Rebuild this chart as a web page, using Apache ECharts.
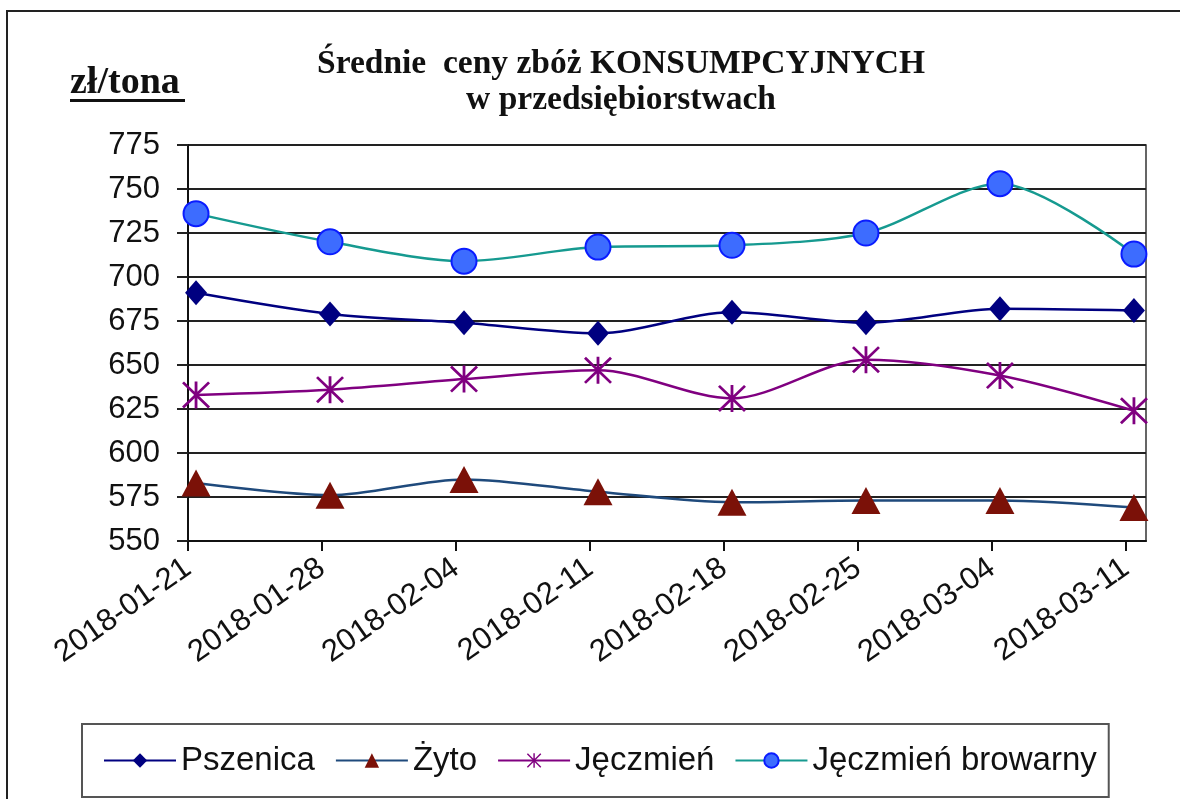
<!DOCTYPE html>
<html>
<head>
<meta charset="utf-8">
<script src="https://cdn.jsdelivr.net/npm/echarts@6/dist/echarts.min.js"></script>
<style>
html,body{margin:0;padding:0;background:#fff;}
#chart{width:1180px;height:799px;}
</style>
</head>
<body>
<div id="chart"></div>
<script>
const dates = ['2018-01-21','2018-01-28','2018-02-04','2018-02-11','2018-02-18','2018-02-25','2018-03-04','2018-03-11'];
const pszenica = [691, 679, 674, 668, 680, 674, 682, 681];
const zyto = [583, 576, 585, 578, 572, 573, 573, 569];
const jeczmien = [633, 636, 642, 647, 631, 653, 644, 624];
const browarny = [736, 720, 709, 717, 718, 725, 753, 713];
const yTicks = [550, 575, 600, 625, 650, 675, 700, 725, 750, 775];

const OFF = 0.06; // offset of points from tick marks (in category units)
const pts = arr => arr.map((v, i) => [i, v]);

const starPath = 'path://M45,0L55,0L55,100L45,100Z M0,7L7,0L100,93L93,100Z M93,0L100,7L7,100L0,93Z';

const chart = echarts.init(document.getElementById('chart'));
const axisFont = {fontFamily: 'Liberation Sans, Arial, sans-serif', fontSize: 31, color: '#111'};

chart.setOption({
  backgroundColor: '#fff',
  animation: false,
  title: {
    text: 'Średnie  ceny zbóż KONSUMPCYJNYCH\nw przedsiębiorstwach',
    left: 616, top: 41, textAlign: 'center',
    textStyle: {fontFamily: 'Liberation Serif, Times New Roman, serif', fontWeight: 'bold', fontSize: 33.5, lineHeight: 36, color: '#111'}
  },
  graphic: [
    {type: 'rect', shape: {x: 7, y: 11, width: 1200, height: 900}, style: {fill: 'none', stroke: '#222', lineWidth: 2}, silent: true},
    {type: 'text', left: 70, top: 64, style: {text: 'zł/tona', fontFamily: 'Liberation Serif, Times New Roman, serif', fontWeight: 'bold', fontSize: 38, fill: '#111'}},
    {type: 'rect', shape: {x: 70, y: 99, width: 115, height: 3}, style: {fill: '#111'}}
  ],
  legend: {
    left: 82, top: 724,
    padding: [19, 12, 19, 21],
    borderColor: '#555', borderWidth: 2,
    itemWidth: 72, itemHeight: 18, itemGap: 20,
    textStyle: {fontFamily: 'Liberation Sans, Arial, sans-serif', fontSize: 33, color: '#111', lineHeight: 35},
    data: ['Pszenica', 'Żyto', 'Jęczmień', 'Jęczmień browarny']
  },
  grid: {left: 188, right: 34, top: 145, bottom: 258, show: true, borderColor: '#333', borderWidth: 1.5, containLabel: false},
  xAxis: {
    type: 'value', min: -OFF, max: 7.09, interval: 1,
    axisLine: {show: true, onZero: false, lineStyle: {color: '#111', width: 2}},
    axisTick: {show: true, length: 10, lineStyle: {color: '#111', width: 2}},
    splitLine: {show: false},
    axisLabel: Object.assign({
      rotate: 35, margin: 24, align: 'right',
      showMaxLabel: false,
      formatter: v => {
        const k = Math.round(v + OFF);
        return Math.abs(v + OFF - k) < 0.01 && dates[k] ? dates[k] : '';
      }
    }, axisFont)
  },
  yAxis: {
    type: 'value', min: yTicks[0], max: yTicks[yTicks.length - 1], interval: 25,
    axisLine: {show: true, onZero: false, lineStyle: {color: '#111', width: 2}},
    axisTick: {show: true, length: 11, lineStyle: {color: '#222', width: 2}},
    splitLine: {show: true, lineStyle: {color: '#222', width: 2}},
    axisLabel: Object.assign({margin: 28}, axisFont)
  },
  series: [
    {
      name: 'Pszenica', type: 'line', smooth: 0.3, data: pts(pszenica),
      symbol: 'diamond', symbolSize: [22, 25],
      lineStyle: {color: '#000080', width: 2.5},
      itemStyle: {color: '#000080'}
    },
    {
      name: 'Żyto', type: 'line', smooth: 0.3, data: pts(zyto),
      symbol: 'triangle', symbolSize: [29, 27],
      lineStyle: {color: '#1f4a7c', width: 2.5},
      itemStyle: {color: '#7b1108'}
    },
    {
      name: 'Jęczmień', type: 'line', smooth: 0.3, data: pts(jeczmien),
      symbol: starPath, symbolSize: [28, 27],
      lineStyle: {color: '#800080', width: 2.5},
      itemStyle: {color: '#800080'}
    },
    {
      name: 'Jęczmień browarny', type: 'line', smooth: 0.3, data: pts(browarny),
      symbol: 'circle', symbolSize: 25,
      lineStyle: {color: '#169a90', width: 2.5},
      itemStyle: {color: '#3d6cff', borderColor: '#0a1cff', borderWidth: 2}
    }
  ]
});
</script>
</body>
</html>
